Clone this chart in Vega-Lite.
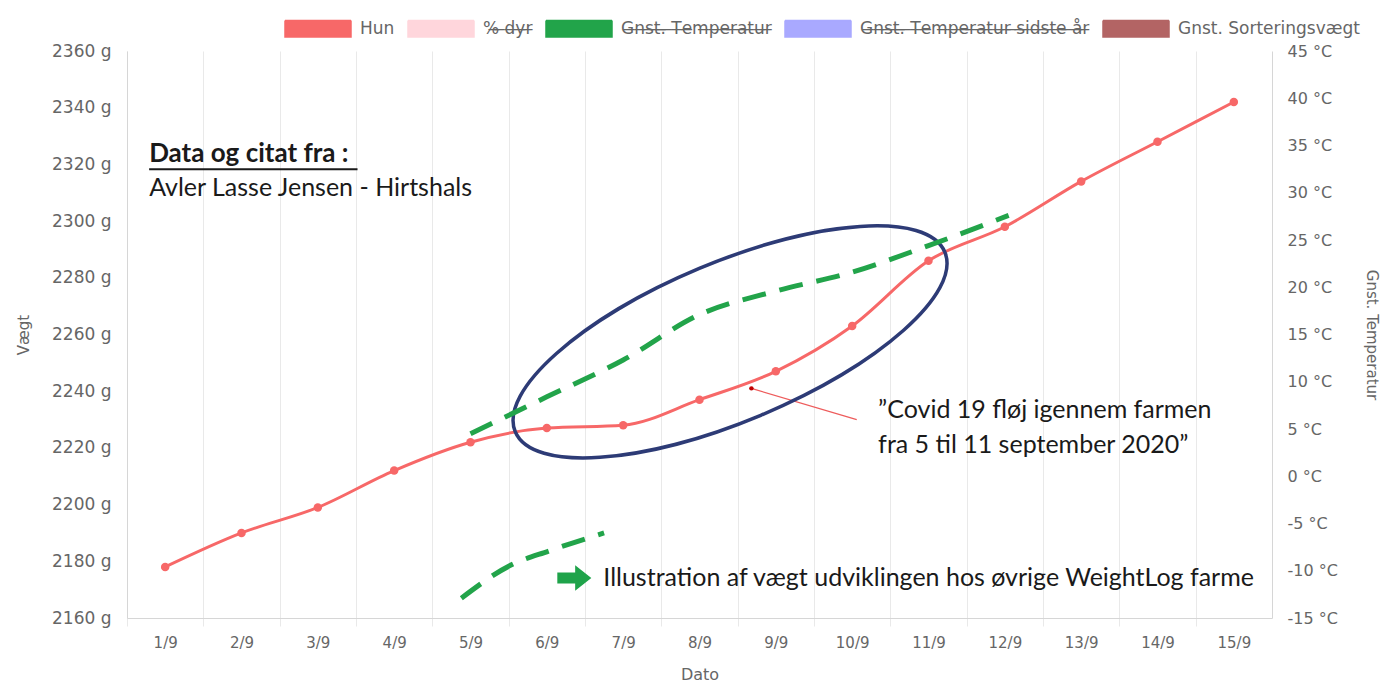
{
  "$schema": "https://vega.github.io/schema/vega-lite/v6.json",
  "width": 1145,
  "height": 567,
  "autosize": {"type": "none"},
  "padding": {"left": 127, "top": 51, "right": 111, "bottom": 67},
  "config": {"view": {"stroke": null}, "font": "DejaVu Sans"},
  "datasets": {
    "hun": [
      {"dag": 1, "vaegt": 2178, "serie": "Hun"},
      {"dag": 2, "vaegt": 2190, "serie": "Hun"},
      {"dag": 3, "vaegt": 2199, "serie": "Hun"},
      {"dag": 4, "vaegt": 2212, "serie": "Hun"},
      {"dag": 5, "vaegt": 2222, "serie": "Hun"},
      {"dag": 6, "vaegt": 2227, "serie": "Hun"},
      {"dag": 7, "vaegt": 2228, "serie": "Hun"},
      {"dag": 8, "vaegt": 2237, "serie": "Hun"},
      {"dag": 9, "vaegt": 2247, "serie": "Hun"},
      {"dag": 10, "vaegt": 2263, "serie": "Hun"},
      {"dag": 11, "vaegt": 2286, "serie": "Hun"},
      {"dag": 12, "vaegt": 2298, "serie": "Hun"},
      {"dag": 13, "vaegt": 2314, "serie": "Hun"},
      {"dag": 14, "vaegt": 2328, "serie": "Hun"},
      {"dag": 15, "vaegt": 2342, "serie": "Hun"}
    ],
    "illustration": [
      {"dag": 5, "temp": 4.5, "del": "a", "serie": "Gnst. Temperatur"},
      {"dag": 6, "temp": 8.4, "del": "a", "serie": "Gnst. Temperatur"},
      {"dag": 7, "temp": 12.3, "del": "a", "serie": "Gnst. Temperatur"},
      {"dag": 8, "temp": 17.1, "del": "a", "serie": "Gnst. Temperatur"},
      {"dag": 9, "temp": 19.6, "del": "a", "serie": "Gnst. Temperatur"},
      {"dag": 10, "temp": 21.6, "del": "a", "serie": "Gnst. Temperatur"},
      {"dag": 11, "temp": 24.4, "del": "a", "serie": "Gnst. Temperatur"},
      {"dag": 12.05, "temp": 27.6, "del": "a", "serie": "Gnst. Temperatur"},
      {"dag": 4.88, "temp": -12.9, "del": "b", "serie": "Gnst. Temperatur"},
      {"dag": 5.53, "temp": -9.4, "del": "b", "serie": "Gnst. Temperatur"},
      {"dag": 6.03, "temp": -7.9, "del": "b", "serie": "Gnst. Temperatur"},
      {"dag": 6.75, "temp": -6.0, "del": "b", "serie": "Gnst. Temperatur"}
    ],
    "pil": [{"dag": 8.68, "vaegt": 2241, "dag2": 10.06, "vaegt2": 2230}],
    "ellipse": [{"dag": 8.4, "vaegt": 2257.4}],
    "overskrift": [{"dag": 0.79, "vaegt": 2323.8, "tekst": "Data og citat fra :"}],
    "understregning": [{"dag": 0.79, "dag2": 3.52, "vaegt": 2318.3}],
    "noter": [
      {"dag": 0.79, "vaegt": 2311.7, "tekst": "Avler Lasse Jensen - Hirtshals"},
      {"dag": 10.34, "vaegt": 2233.4, "tekst": "”Covid 19 fløj igennem farmen"},
      {"dag": 10.34, "vaegt": 2221.0, "tekst": "fra 5 til 11 september 2020”"},
      {"dag": 6.74, "vaegt": 2174.1, "tekst": "Illustration af vægt udviklingen hos øvrige WeightLog farme"}
    ],
    "pilspids": [{"dag": 6.36, "vaegt": 2174.1}]
  },
  "layer": [
    {
      "layer": [
        {
          "data": {"name": "hun"},
          "mark": {"type": "line", "interpolate": "monotone", "strokeWidth": 3},
          "encoding": {
            "x": {
              "field": "dag", "type": "quantitative",
              "scale": {"domain": [0.5, 15.5], "nice": false, "zero": false},
              "axis": {
                "values": [1, 2, 3, 4, 5, 6, 7, 8, 9, 10, 11, 12, 13, 14, 15],
                "labelExpr": "datum.value + '/9'",
                "title": "Dato",
                "grid": true, "gridColor": "#e9e9e9",
                "tickOffset": -38.17, "labelOffset": 38.17,
                "ticks": true, "tickSize": 8, "tickColor": "#e9e9e9",
                "domainColor": "#d6d6d6",
                "labelColor": "#666", "labelFontSize": 15, "labelPadding": 9,
                "labelFlush": false, "labelOverlap": false,
                "titleColor": "#666", "titleFontSize": 16, "titleFontWeight": "normal", "titlePadding": 16
              }
            },
            "y": {
              "field": "vaegt", "type": "quantitative",
              "scale": {"domain": [2160, 2360], "nice": false, "zero": false},
              "axis": {
                "values": [2160, 2180, 2200, 2220, 2240, 2260, 2280, 2300, 2320, 2340, 2360],
                "labelExpr": "datum.value + ' g'",
                "title": "Vægt",
                "grid": false, "ticks": false,
                "domainColor": "#d6d6d6",
                "labelColor": "#666", "labelFontSize": 17, "labelPadding": 16,
                "labelFlush": false, "labelOverlap": false,
                "titleColor": "#666", "titleFontSize": 15, "titleFontWeight": "normal", "titlePadding": 20
              }
            },
            "color": {
              "field": "serie", "type": "nominal",
              "scale": {
                "domain": ["Hun", "% dyr", "Gnst. Temperatur", "Gnst. Temperatur sidste år", "Gnst. Sorteringsvægt"],
                "range": ["#f76868", "#ffd6dc", "#22a44a", "#a9a9ff", "#b36464"]
              },
              "legend": {
                "title": null,
                "orient": "none", "legendX": 157, "legendY": -40,
                "direction": "horizontal", "columns": 5, "columnPadding": 10,
                "symbolType": "M-1,-0.5H3V0.5H-1Z", "symbolSize": 1089, "symbolStrokeWidth": 1.5,
                "labelFont": "DejaVu Sans", "labelFontSize": 17, "labelColor": "#666", "labelOffset": 41, "labelLimit": 400,
                "labelExpr": "(datum.label == 'Hun' || datum.label == 'Gnst. Sorteringsvægt') ? datum.label : replace(datum.label, regexp('(.)', 'g'), '$1\u0336')",
                "encode": {
                  "symbols": {
                    "update": {
                      "fill": {"scale": "color", "field": "value"},
                      "stroke": {"signal": "datum.value == '% dyr' ? '#ffb0bd' : datum.value == 'Gnst. Temperatur sidste år' ? '#6f6fff' : scale('color', datum.value)"},
                      "strokeDash": {"value": [1, 0]},
                      "opacity": {"value": 1}
                    }
                  }
                }
              }
            }
          }
        },
        {
          "data": {"name": "hun"},
          "mark": {"type": "point", "filled": true, "size": 72, "color": "#f76868", "opacity": 1},
          "encoding": {
            "x": {"field": "dag", "type": "quantitative"},
            "y": {"field": "vaegt", "type": "quantitative"}
          }
        },
        {
          "data": {"name": "pil"},
          "mark": {"type": "rule", "color": "#ee5c5c", "strokeWidth": 1.2},
          "encoding": {
            "x": {"field": "dag", "type": "quantitative"},
            "x2": {"field": "dag2"},
            "y": {"field": "vaegt", "type": "quantitative"},
            "y2": {"field": "vaegt2"}
          }
        },
        {
          "data": {"name": "pil"},
          "mark": {"type": "point", "filled": true, "size": 20, "color": "#c00000", "opacity": 1},
          "encoding": {
            "x": {"field": "dag", "type": "quantitative"},
            "y": {"field": "vaegt", "type": "quantitative"}
          }
        },
        {
          "data": {"name": "ellipse"},
          "mark": {
            "type": "point", "filled": false, "opacity": 1,
            "shape": "M-1,0C-1,-0.189,-0.552,-0.342,0,-0.342C0.552,-0.342,1,-0.189,1,0C1,0.189,0.552,0.342,0,0.342C-0.552,0.342,-1,0.189,-1,0Z",
            "size": 216800, "angle": 337.3, "strokeWidth": 3.5, "color": "#2d3b76"
          },
          "encoding": {
            "x": {"field": "dag", "type": "quantitative"},
            "y": {"field": "vaegt", "type": "quantitative"}
          }
        },
        {
          "data": {"name": "understregning"},
          "mark": {"type": "rule", "color": "#1a1a1a", "strokeWidth": 2},
          "encoding": {
            "x": {"field": "dag", "type": "quantitative"},
            "x2": {"field": "dag2"},
            "y": {"field": "vaegt", "type": "quantitative"}
          }
        },
        {
          "data": {"name": "overskrift"},
          "mark": {"type": "text", "font": "Lato", "fontSize": 26, "fontWeight": "bold", "align": "left", "baseline": "middle", "color": "#1a1a1a"},
          "encoding": {
            "x": {"field": "dag", "type": "quantitative"},
            "y": {"field": "vaegt", "type": "quantitative"},
            "text": {"field": "tekst"}
          }
        },
        {
          "data": {"name": "noter"},
          "mark": {"type": "text", "font": "Lato", "fontSize": 25, "align": "left", "baseline": "middle", "color": "#1a1a1a"},
          "encoding": {
            "x": {"field": "dag", "type": "quantitative"},
            "y": {"field": "vaegt", "type": "quantitative"},
            "text": {"field": "tekst"}
          }
        },
        {
          "data": {"name": "pilspids"},
          "mark": {
            "type": "point", "filled": true, "opacity": 1,
            "shape": "M-1,-0.32L0.05,-0.32L0.05,-0.75L1,0L0.05,0.75L0.05,0.32L-1,0.32Z",
            "size": 1156, "color": "#1fa34a", "strokeWidth": 0
          },
          "encoding": {
            "x": {"field": "dag", "type": "quantitative"},
            "y": {"field": "vaegt", "type": "quantitative"}
          }
        }
      ]
    },
    {
      "data": {"name": "illustration"},
      "mark": {"type": "line", "interpolate": "monotone", "strokeWidth": 5, "strokeDash": [24, 14]},
      "encoding": {
        "x": {"field": "dag", "type": "quantitative"},
        "y": {
          "field": "temp", "type": "quantitative",
          "scale": {"domain": [-15, 45], "nice": false, "zero": false},
          "axis": {
            "orient": "right",
            "values": [-15, -10, -5, 0, 5, 10, 15, 20, 25, 30, 35, 40, 45],
            "labelExpr": "datum.value + ' °C'",
            "title": "Gnst. Temperatur",
            "grid": false, "ticks": false,
            "domainColor": "#d6d6d6",
            "labelColor": "#666", "labelFontSize": 16, "labelPadding": 15,
            "labelFlush": false, "labelOverlap": false,
            "titleColor": "#666", "titleFontSize": 15, "titleFontWeight": "normal", "titlePadding": 26
          }
        },
        "color": {"field": "serie", "type": "nominal"},
        "detail": {"field": "del"}
      }
    }
  ],
  "resolve": {"scale": {"y": "independent"}}
}
